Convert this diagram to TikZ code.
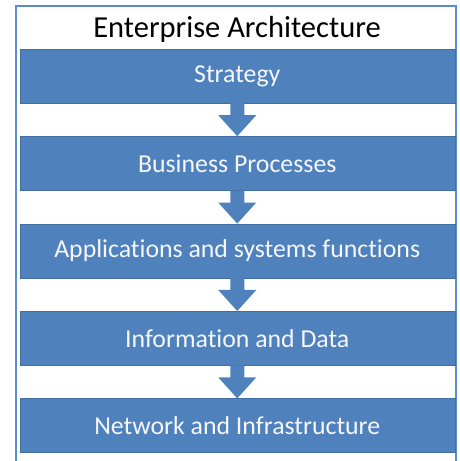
\documentclass[tikz,border=0pt]{standalone}
\usepackage{fontspec}
\setmainfont[Ligatures=NoCommon]{Carlito}
\usepackage{xcolor}
\usetikzlibrary{positioning, calc}
\definecolor{layerblue}{HTML}{4F81BD}
\definecolor{frameblue}{HTML}{5B8BD3}

\begin{document}
\begin{tikzpicture}[x=1pt,y=1pt,node distance=33pt,
        layer/.style={draw=layerblue!85!black,fill=layerblue,text=white!94!layerblue,
          minimum width=435pt,minimum height=54pt,inner sep=0pt,
          font=\fontsize{25.8}{30}\selectfont},
        flow/.style={fill=layerblue}]

  \useasboundingbox (0,0) rectangle (459,461);
  \draw[frameblue, line width=2pt] (15.5,0) |- (456,455) -- (456,0);

  \node[font=\fontsize{30.5}{36}\selectfont] (title) at (237,432) {Enterprise Architecture};
  \node[layer]  (strat)                  at (237.25,385) {Strategy};
  \node[layer]  (proc) [below=of strat] {Business Processes};
  \node[layer]  (apps) [below=of proc]  {Applications and systems functions};
  \node[layer]  (info) [below=of apps]  {Information and Data};
  \node[layer]  (net)  [below=of info]  {Network and Infrastructure};

  % block arrows between the layers
  \foreach \a/\b in {strat/proc,proc/apps,apps/info,info/net}
    \fill[flow] ([xshift=-7pt]\a.south) -- ++(0,-12) -- ++(-12,0) -- (\b.north)
      -- ([shift={(19pt,-12pt)}]\a.south) -- ++(-12,0) -- ([xshift=7pt]\a.south) -- cycle;
\end{tikzpicture}
\end{document}
